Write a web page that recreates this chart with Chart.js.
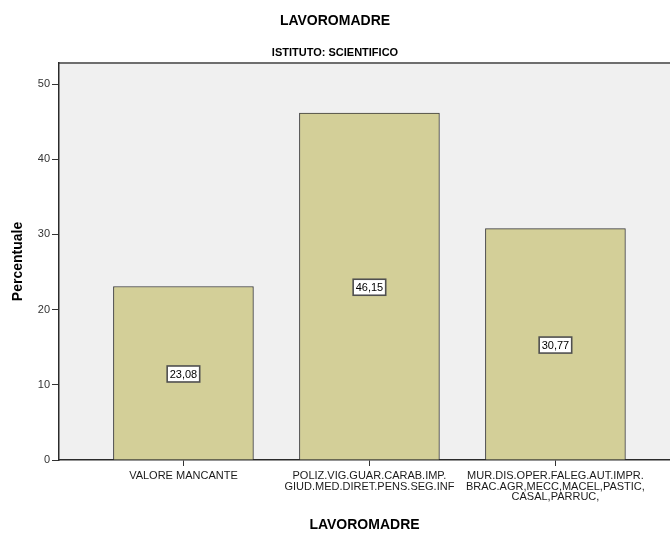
<!DOCTYPE html>
<html>
<head>
  <meta charset="UTF-8">
  <title>LAVOROMADRE</title>
  <style>
    body { margin: 0; background: #fff; }
  </style>
  <script src="https://cdn.jsdelivr.net/npm/chart.js"></script>
</head>
<body>
  <canvas id="chart" width="670" height="534"></canvas>

  <script>
  // categories (x ticks) and percentages
  const categories = [
    ["VALORE MANCANTE"],
    ["POLIZ.VIG.GUAR.CARAB.IMP.", "GIUD.MED.DIRET.PENS.SEG.INF"],
    ["MUR.DIS.OPER.FALEG.AUT.IMPR.", "BRAC.AGR,MECC,MACEL,PASTIC,", "CASAL,PARRUC,"]
  ];
  const percentuali = [23.08, 46.15, 30.77];
  const yTicks = [0, 10, 20, 30, 40, 50];

  const font = "Arial, 'Liberation Sans', sans-serif";

  // grey plot background + top frame
  const plotBg = {
    id: "plotBg",
    beforeDraw(chart) {
      const { ctx, chartArea: a } = chart;
      ctx.save();
      ctx.fillStyle = "#f0f0f0";
      ctx.fillRect(a.left, a.top, a.right - a.left, a.bottom - a.top);
      ctx.strokeStyle = "#6e6e6e";
      ctx.lineWidth = 2;
      ctx.beginPath();
      ctx.moveTo(a.left, a.top);
      ctx.lineTo(a.right, a.top);
      ctx.stroke();
      ctx.restore();
    }
  };

  // value boxes in the middle of each bar
  const valueBoxes = {
    id: "valueBoxes",
    afterDatasetsDraw(chart) {
      const ctx = chart.ctx;
      const meta = chart.getDatasetMeta(0);
      ctx.save();
      ctx.font = "11px " + font;
      ctx.textAlign = "center";
      ctx.textBaseline = "middle";
      meta.data.forEach((bar, i) => {
        const txt = percentuali[i].toFixed(2).replace(".", ",");
        const w = ctx.measureText(txt).width + 5;
        const h = 16;
        const cx = bar.x;
        const cy = (bar.y + bar.base) / 2 + 1;
        ctx.fillStyle = "#fff";
        ctx.fillRect(cx - w / 2, cy - h / 2, w, h);
        ctx.strokeStyle = "#505050";
        ctx.lineWidth = 1.6;
        ctx.strokeRect(cx - w / 2, cy - h / 2, w, h);
        ctx.fillStyle = "#000";
        ctx.fillText(txt, cx, cy + 1);
      });
      ctx.restore();
    }
  };

  new Chart(document.getElementById("chart").getContext("2d"), {
    type: "bar",
    data: {
      datasets: [{
        data: percentuali.map((v, i) => ({ x: i, y: v })),
        backgroundColor: "#d3cf98",
        borderColor: "#3a3a3a",
        borderWidth: 1,
        borderSkipped: "bottom",
        barThickness: 140
      }]
    },
    options: {
      responsive: false,
      animation: false,
      layout: { padding: { left: 0, right: 0, top: 0, bottom: 0 } },
      plugins: {
        legend: { display: false },
        tooltip: { enabled: false },
        title: {
          display: true,
          text: "LAVOROMADRE",
          color: "#000",
          font: { family: font, size: 14, weight: "bold", lineHeight: 1.2 },
          padding: { top: 13, bottom: 8 }
        },
        subtitle: {
          display: true,
          text: "ISTITUTO: SCIENTIFICO",
          color: "#000",
          font: { family: font, size: 11, weight: "bold", lineHeight: 1.2 },
          padding: { top: 9, bottom: 3 }
        }
      },
      scales: {
        x: {
          type: "linear",
          offset: false,
          min: -0.669,
          max: 2.616,
          afterBuildTicks(scale) {
            scale.ticks = categories.map((c, i) => ({ value: i }));
          },
          afterFit(scale) { scale.height = 74; },
          ticks: {
            autoSkip: false,
            maxRotation: 0,
            padding: 5,
            color: "#1a1a1a",
            font: { family: font, size: 11, lineHeight: 0.95 },
            callback: (v) => categories[v]
          },
          grid: {
            offset: false,
            drawOnChartArea: false,
            tickLength: 6,
            color: "#333"
          },
          border: { color: "#2a2a2a", width: 1.5 },
          title: {
            display: true,
            text: "LAVOROMADRE",
            color: "#000",
            font: { family: font, size: 14, weight: "bold", lineHeight: 1.2 },
            padding: { top: 0, bottom: 0 }
          }
        },
        y: {
          min: 0,
          max: 52.8,
          afterBuildTicks(scale) {
            scale.ticks = yTicks.map(v => ({ value: v }));
          },
          afterFit(scale) { scale.width = 59; },
          ticks: {
            padding: 2,
            color: "#333",
            font: { family: font, size: 11 }
          },
          grid: {
            drawOnChartArea: false,
            tickLength: 7,
            color: "#333"
          },
          border: { color: "#2a2a2a", width: 1.5 },
          title: {
            display: true,
            text: "Percentuale",
            color: "#000",
            font: { family: font, size: 14, weight: "bold", lineHeight: 1.2 },
            padding: { top: 10, bottom: 0 }
          }
        }
      }
    },
    plugins: [plotBg, valueBoxes]
  });
  </script>
</body>
</html>
